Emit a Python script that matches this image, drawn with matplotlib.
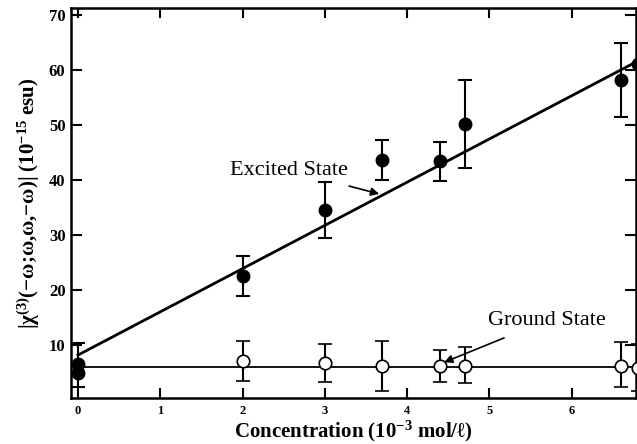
import numpy as np
import matplotlib
matplotlib.use('Agg')
import matplotlib.pyplot as plt

plt.rcParams['font.family'] = 'Liberation Serif'
plt.rcParams['mathtext.fontset'] = 'custom'
plt.rcParams['mathtext.rm'] = 'Liberation Serif'
plt.rcParams['mathtext.bf'] = 'Liberation Serif:bold'
plt.rcParams['mathtext.default'] = 'bf'

# excited state (filled circles), x in 10^-3 mol/l
exc_x = [0.0, 0.0, 2.0, 3.0, 3.7, 4.4, 4.7, 6.6, 6.8]
exc_y = [6.5, 4.9, 22.5, 34.5, 43.6, 43.4, 50.2, 58.2, 61.1]
exc_lo = [2.4, 4.9, 18.9, 29.5, 40.0, 39.8, 42.2, 51.5, 61.1]
exc_hi = [10.4, 4.9, 26.2, 39.6, 47.3, 46.9, 58.2, 65.0, 61.1]

# ground state (open circles)
gnd_x = [2.0, 3.0, 3.7, 4.4, 4.7, 6.6, 6.8]
gnd_y = [7.1, 6.7, 6.2, 6.2, 6.2, 6.2, 5.8]
gnd_lo = [3.5, 3.3, 1.6, 3.3, 3.1, 2.4, 1.6]
gnd_hi = [10.7, 10.2, 10.7, 9.1, 9.6, 10.5, 10.2]

# linear fits
exc_fit = (8.2, 7.86)   # intercept, slope
gnd_fit = (6.0, 0.0)

fig = plt.figure(figsize=(6.37, 4.44), dpi=100)
ax = fig.add_axes([71/637, 1 - 398/444, (636 - 71)/637, (398 - 8)/444])

xf = np.array([0.0, 7.0])
ax.plot(xf, exc_fit[0] + exc_fit[1]*xf, color='black', lw=2.0, zorder=2)
ax.plot(xf, gnd_fit[0] + gnd_fit[1]*xf, color='black', lw=1.3, zorder=2)

ey = np.array(exc_y)
ax.errorbar(exc_x, exc_y, yerr=[ey - np.array(exc_lo), np.array(exc_hi) - ey],
            fmt='o', color='black', ms=9, capsize=5, capthick=1.5, elinewidth=1.5, zorder=3)
gy = np.array(gnd_y)
ax.errorbar(gnd_x, gnd_y, yerr=[gy - np.array(gnd_lo), np.array(gnd_hi) - gy],
            fmt='o', color='black', mfc='white', mec='black', mew=1.2, ms=9,
            capsize=5, capthick=1.5, elinewidth=1.5, zorder=3)

ax.annotate('Excited State', xy=(3.66, 37.5), xytext=(2.56, 41.8),
            fontsize=16, ha='center', va='center',
            arrowprops=dict(arrowstyle='-|>', color='black', lw=1.2,
                            shrinkA=10, shrinkB=0, mutation_scale=12))
ax.annotate('Ground State', xy=(4.45, 6.9), xytext=(5.7, 14.5),
            fontsize=16, ha='center', va='center',
            arrowprops=dict(arrowstyle='-|>', color='black', lw=1.2,
                            shrinkA=10, shrinkB=0, mutation_scale=12))

ax.set_xlim(-0.084, 6.78)
ax.set_ylim(0.4, 71.3)
ax.set_xticks(range(0, 7))
ax.set_yticks(range(10, 80, 10))
ax.tick_params(axis='both', direction='in', top=True, right=True, width=1.5, color='black')
ax.tick_params(axis='x', length=7, labelsize=9, pad=5)
ax.tick_params(axis='y', length=8, labelsize=12, pad=4)
for lab in ax.get_xticklabels() + ax.get_yticklabels():
    lab.set_fontweight('bold')
for sp in ax.spines.values():
    sp.set_linewidth(1.8)

ax.set_xlabel('Concentration (10$^{-3}$ mol/ℓ)', fontsize=15, fontweight='bold', labelpad=1)
ax.set_ylabel('|χ$^{(3)}$(−ω;ω,ω,−ω)| (10$^{-15}$ esu)',
              fontsize=15, fontweight='bold', labelpad=5)

fig.savefig('out.png', dpi=100)
